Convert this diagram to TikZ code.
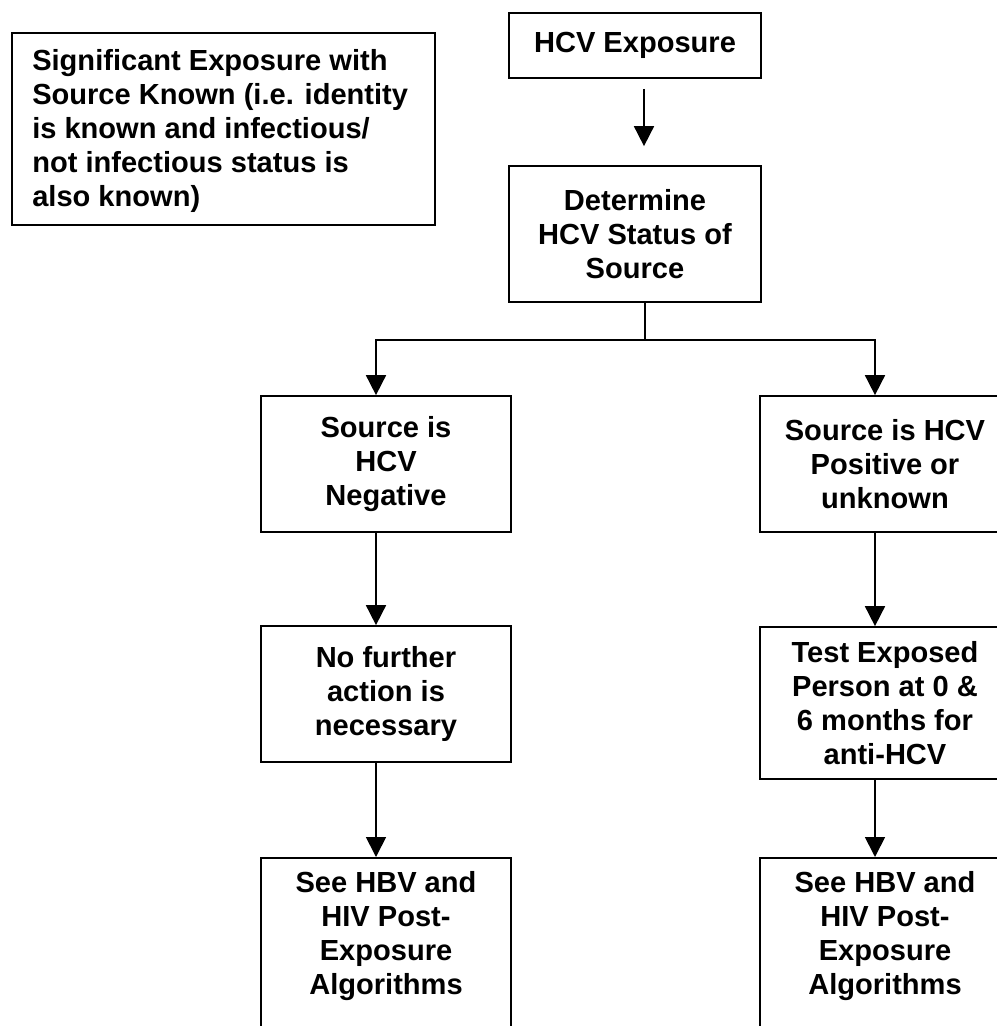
\documentclass[tikz,border=0pt]{standalone}
\usepackage{fontspec}
\setmainfont{Liberation Sans}
\usetikzlibrary{arrows.meta,calc}

\begin{document}
\begin{tikzpicture}[x=0.75pt,y=-0.75pt,
  every node/.style={font=\fontsize{21.8pt}{25.5pt}\selectfont\bfseries},
  flowbox/.style={draw,line width=1.3pt,rectangle,align=center,inner sep=0pt},
  conn/.style={line width=1.3pt},
  arr/.style={conn,-{Triangle[width=15pt,length=15pt]}}]
  % page frame; boxes on the right and bottom run past it
  \path[use as bounding box,clip] (0,0) rectangle (997,1026);

  % note box
  \node[flowbox,minimum width=317.25pt,minimum height=144pt,anchor=north west] (note) at (11,32) {};
  \node[anchor=north west,align=left,inner sep=0pt] (notetext) at (32,49)
    {Significant Exposure with\\Source Known (i.e. identity\\is known and infectious/\\not infectious status is\\also known)};

  % main column
  \node[flowbox,minimum width=189pt,minimum height=48.75pt] (exp) at (635,45.5) {HCV Exposure};
  \node[flowbox,minimum width=189pt,minimum height=102pt] (det) at (635,234)
    {Determine\\HCV Status of\\Source};

  % left branch
  \node[flowbox,minimum width=187.5pt,minimum height=102pt] (neg) at (386,464)
    {Source is\\HCV\\Negative};
  \node[flowbox,minimum width=187.5pt,minimum height=102pt] (nfa) at (386,694)
    {No further\\action is\\necessary};
  \node[flowbox,minimum width=187.5pt,minimum height=165pt,anchor=north] (see1) at (386,857) {};
  \node[align=center,inner sep=0pt,anchor=north] (see1text) at (386,871)
    {See HBV and\\HIV Post-\\Exposure\\Algorithms};

  % right branch
  \node[flowbox,minimum width=187.5pt,minimum height=102pt] (pos) at (885,464)
    {Source is HCV\\Positive or\\unknown};
  \node[flowbox,minimum width=187.5pt,minimum height=114pt] (test) at (885,703)
    {Test Exposed\\Person at 0 \&\\6 months for\\anti-HCV};
  \node[flowbox,minimum width=187.5pt,minimum height=165pt,anchor=north] (see2) at (885,857) {};
  \node[align=center,inner sep=0pt,anchor=north] (see2text) at (885,871)
    {See HBV and\\HIV Post-\\Exposure\\Algorithms};

  % connectors
  \draw[arr,shorten <=7.5pt,shorten >=14.25pt] ($(exp.south)+(9,0)$) -- ($(det.north)+(9,0)$);
  \coordinate (split) at ($(det.south)+(10,37)$);
  \draw[conn] (det.south -| split) -- (split);
  \draw[arr] (split) -| ($(neg.north)+(-10,0)$);
  \draw[arr] (split) -| ($(pos.north)+(-10,0)$);
  \draw[arr] ($(neg.south)+(-10,0)$) -- ($(nfa.north)+(-10,0)$);
  \draw[arr] ($(nfa.south)+(-10,0)$) -- ($(see1.north)+(-10,0)$);
  \draw[arr] ($(pos.south)+(-10,0)$) -- ($(test.north)+(-10,0)$);
  \draw[arr] ($(test.south)+(-10,0)$) -- ($(see2.north)+(-10,0)$);
\end{tikzpicture}
\end{document}
